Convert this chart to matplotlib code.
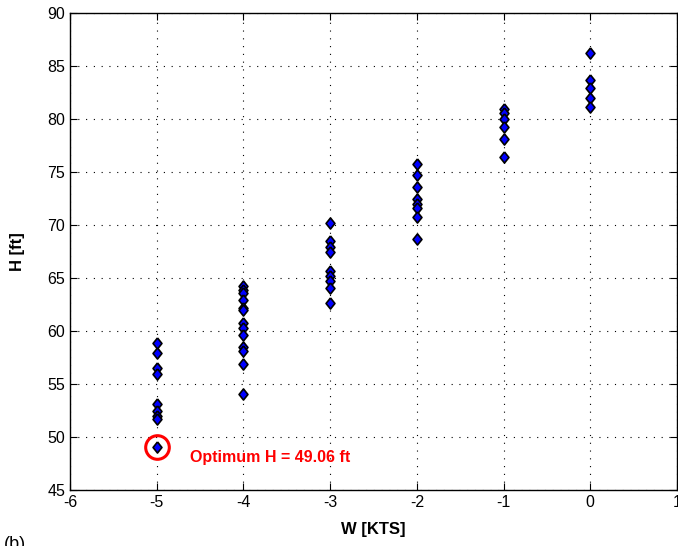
import numpy as np
import matplotlib.pyplot as plt

plt.rcParams['font.family'] = ['Liberation Sans', 'DejaVu Sans']
plt.rcParams['axes.unicode_minus'] = False

w_values = [-5, -4, -3, -2, -1, 0]
h_values = [
    [58.9, 57.9, 56.5, 55.9, 53.1, 52.5, 52.0, 51.7, 49.06],
    [64.2, 63.9, 63.6, 62.9, 62.2, 62.0, 60.8, 60.3, 59.6, 58.5, 58.1, 56.9, 54.1],
    [70.2, 68.5, 67.9, 67.5, 65.7, 65.2, 64.7, 64.1, 62.6],
    [75.8, 74.7, 73.6, 72.5, 72.0, 71.6, 70.8, 68.7],
    [80.9, 80.6, 80.0, 79.2, 78.1, 76.4],
    [86.2, 83.7, 82.9, 82.0, 81.1],
]
opt_w = -5
opt_h = 49.06

fig = plt.figure(figsize=(6.78, 5.46), dpi=100)
ax = fig.add_axes([70/678, 56/546, 607/678, 477/546])

# slightly tall diamond like matlab's
diamond = [(0, 1), (0.8, 0), (0, -1), (-0.8, 0), (0, 1)]
for w, hs in zip(w_values, h_values):
    ax.plot([w]*len(hs), hs, marker=diamond, ms=8, mfc='#0000ff', mec='black', mew=1.2, ls='none')

ax.plot(opt_w, opt_h, 'o', ms=17, mfc='none', mec='red', mew=2.2)
ax.text(-4.62, opt_h - 0.95, 'Optimum H = 49.06 ft', color='red', fontsize=11.5,
        fontweight='bold', va='center', ha='left')

ax.set_xlim(-6, 1)
ax.set_ylim(45, 90)
ax.set_xticks(np.arange(-6, 2, 1))
ax.set_yticks(np.arange(45, 95, 5))
ax.grid(True, color='black', ls=(0, (1, 6)), lw=0.8)
ax.tick_params(direction='in', top=True, right=True, labelsize=11.5, length=5)
for s in ax.spines.values():
    s.set_linewidth(1.0)
ax.set_xlabel('W [KTS]', fontsize=12, fontweight='bold', labelpad=9)
ax.set_ylabel('H [ft]', fontsize=12, fontweight='bold', labelpad=16)

fig.text(0.005, -0.012, '(b)', fontsize=13, ha='left', va='bottom')

fig.savefig('out.png', dpi=100)
